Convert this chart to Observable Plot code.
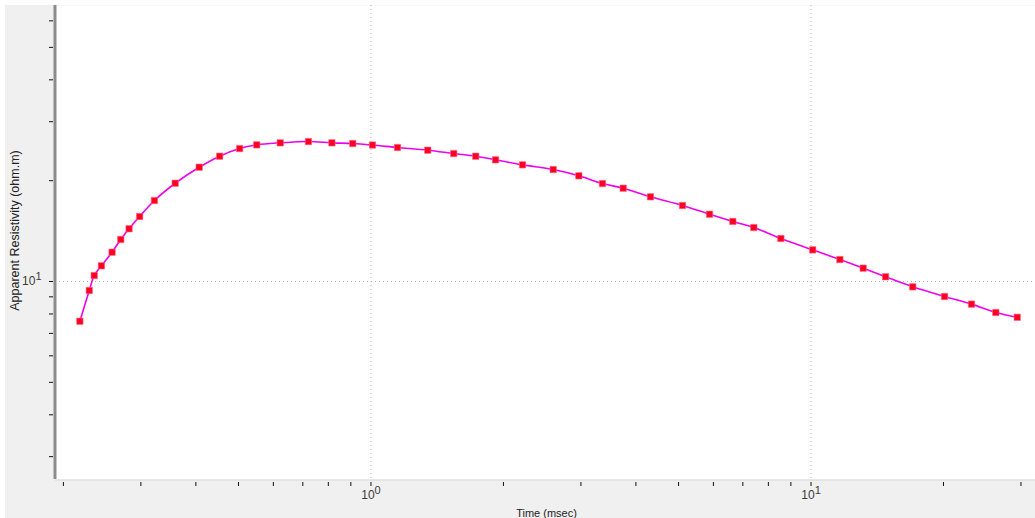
<!DOCTYPE html>
<html>
<head>
<meta charset="utf-8">
<script src="https://cdn.jsdelivr.net/npm/d3@7"></script>
<script src="https://cdn.jsdelivr.net/npm/@observablehq/plot@0.6"></script>
<style>
  html, body { margin: 0; padding: 0; background: #ffffff; }
  #chart { position: absolute; left: 5px; top: 5px; }
  #chart svg { display: block; background: #f0f0f0; font-family: "Liberation Sans", Arial, sans-serif; }
</style>
</head>
<body>
<div id="chart"></div>
<script>
// Data
const times = [0.218,0.229,0.235,0.244,0.258,0.270,0.282,0.298,0.322,0.359,0.407,0.453,0.503,0.550,0.622,0.721,0.815,0.909,1.008,1.149,1.346,1.542,1.730,1.919,2.210,2.595,2.967,3.358,3.743,4.317,5.105,5.880,6.643,7.413,8.541,10.09,11.63,13.14,14.77,17.03,20.11,23.16,26.30,29.42];
const rho = [7.61,9.40,10.42,11.14,12.23,13.35,14.37,15.63,17.45,19.65,21.94,23.66,24.94,25.58,25.94,26.17,25.94,25.82,25.55,25.12,24.66,24.10,23.66,23.08,22.30,21.59,20.68,19.61,18.99,17.90,16.86,15.88,15.11,14.49,13.44,12.43,11.63,10.96,10.33,9.64,9.02,8.56,8.08,7.82];

const xTicks = [0.2,0.3,0.4,0.5,0.6,0.7,0.8,0.9,1,2,3,4,5,6,7,8,9,10,20,30];
const xLabels = {1: "10^0", 10: "10^1"};
const yTicks = [3,4,5,6,7,8,9,10,20,30,40,50,60];
const yLabels = {10: "10^1"};
const xGrid = [1, 10];
const yGrid = [10];
const xDomain = [0.1919, 32.37];
const yDomain = [2.564, 66.68];
const xTitle = "Time (msec)";
const yTitle = "Apparent Resistivity (ohm.m)";

const data = times.map((t, i) => ({t, r: rho[i]}));

const chart = Plot.plot({
  width: 1030,
  height: 513,
  marginLeft: 50,
  marginRight: 0,
  marginTop: 0,
  marginBottom: 39,
  style: {fontSize: "12px", fontFamily: "Liberation Sans, Arial, sans-serif", color: "#333", background: "#f0f0f0"},
  x: {type: "log", domain: xDomain},
  y: {type: "log", domain: yDomain},
  marks: [
    Plot.frame({fill: "white", stroke: null}),
    Plot.ruleX(xGrid, {stroke: "#b0b0b0", strokeDasharray: "1,3", strokeWidth: 1}),
    Plot.ruleY(yGrid, {stroke: "#b0b0b0", strokeDasharray: "1,3", strokeWidth: 1}),
    Plot.ruleY([yDomain[0]], {stroke: "#d8d8d8", strokeWidth: 1, dy: 0.5}),
    Plot.ruleX([xDomain[0]], {stroke: "#8c8c8c", strokeWidth: 3, dx: -0.5}),
    Plot.axisX({ticks: xTicks, tickSize: 4, tickPadding: 4, dy: 3, stroke: "#111", fill: "#3a3a3a", fontSize: 12,
      tickFormat: d => xLabels[d] ?? "", label: null}),
    Plot.axisY({ticks: yTicks, tickSize: 4, tickPadding: 8, dx: -2, stroke: "#111", fill: "#3a3a3a", fontSize: 12,
      tickFormat: d => yLabels[d] ?? "", label: null}),
    Plot.line(data, {x: "t", y: "r", curve: "catmull-rom", stroke: "#ee00ee", strokeWidth: 1.6}),
    Plot.dot(data, {x: "t", y: "r", symbol: "square", r: 3.6, fill: "#ff0022", stroke: "#ff6680", strokeWidth: 0.6}),
    Plot.text([xTitle], {frameAnchor: "bottom", textAnchor: "middle", lineAnchor: "middle", dy: 34, dx: 1, fill: "#222", fontSize: 11}),
    Plot.text([yTitle], {frameAnchor: "left", textAnchor: "middle", lineAnchor: "middle", dx: -41, dy: -12, rotate: -90, fill: "#222", fontSize: 12.5})
  ]
});

// Render "10^n" tick labels with a raised exponent
chart.querySelectorAll("text").forEach(el => {
  const m = /^10\^(\d+)$/.exec(el.textContent);
  if (!m) return;
  el.textContent = "";
  const base = document.createElementNS("http://www.w3.org/2000/svg", "tspan");
  base.textContent = "10";
  const sup = document.createElementNS("http://www.w3.org/2000/svg", "tspan");
  sup.textContent = m[1];
  sup.setAttribute("dy", "-5");
  sup.setAttribute("font-size", "11");
  el.appendChild(base);
  el.appendChild(sup);
});

document.getElementById("chart").appendChild(chart);
</script>
</body>
</html>
